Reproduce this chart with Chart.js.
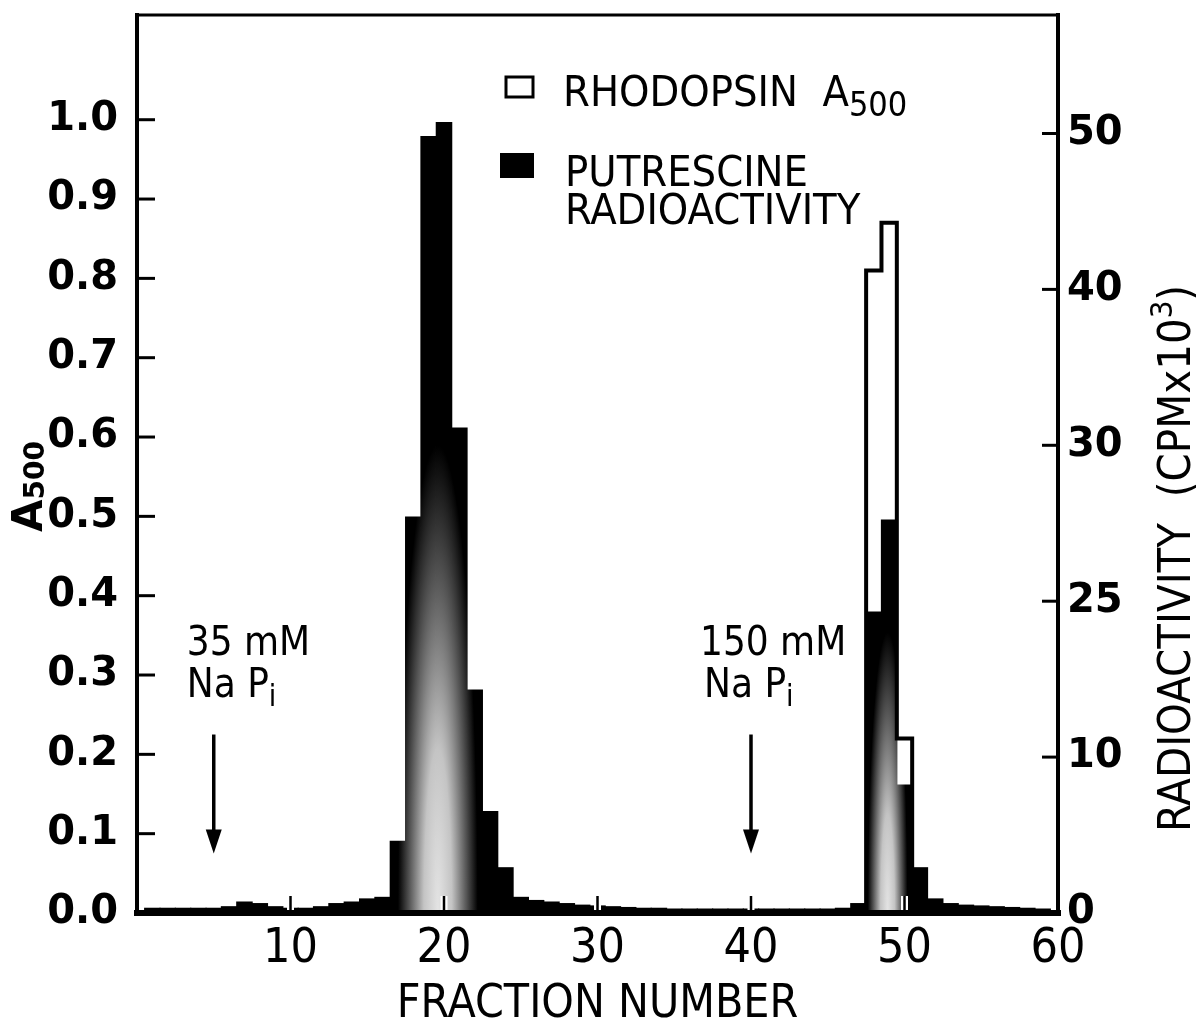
<!DOCTYPE html>
<html>
<head>
<meta charset="utf-8">
<script src="https://cdn.jsdelivr.net/npm/chart.js@4.4.1/dist/chart.umd.min.js"></script>
<style>
  html, body { margin: 0; padding: 0; background: #fff; }
</style>
</head>
<body>
<canvas id="myChart" width="1197" height="1035"></canvas>
<script>
// putrescine radioactivity (CPM x 10^3), one value per fraction
const fractions = [1, 2, 3, 4, 5, 6, 7, 8, 9, 10, 11, 12, 13, 14, 15, 16, 17, 18, 19, 20,
  21, 22, 23, 24, 25, 26, 27, 28, 29, 30, 31, 32, 33, 34, 35, 36, 37, 38, 39, 40,
  41, 42, 43, 44, 45, 46, 47, 48, 49, 50, 51, 52, 53, 54, 55, 56, 57, 58, 59];
const radioactivity = [0.3, 0.3, 0.3, 0.3, 0.3, 0.4, 0.7, 0.6, 0.4, 0.3, 0.3, 0.4, 0.6, 0.7, 0.9, 1.0, 4.6, 25.4, 49.8, 50.7,
  31.1, 14.3, 6.5, 2.9, 1.0, 0.8, 0.7, 0.6, 0.5, 0.45, 0.4, 0.35, 0.3, 0.3, 0.25, 0.25, 0.25, 0.25, 0.25, 0.25,
  0.25, 0.25, 0.25, 0.25, 0.25, 0.3, 0.6, 19.3, 25.2, 8.2, 2.9, 0.9, 0.6, 0.5, 0.45, 0.4, 0.35, 0.3, 0.25];

// rhodopsin A500 (open bars)
const rhodFractions = [48, 49, 50];
const rhodA500 = [0.81, 0.87, 0.22];

const leftTicks = [0, 0.1, 0.2, 0.3, 0.4, 0.5, 0.6, 0.7, 0.8, 0.9, 1.0];
const rightTicks = [0, 10, 20, 30, 40, 50];
const rightTickLabels = ['0', '10', '25', '30', '40', '50'];
const xTicks = [10, 20, 30, 40, 50, 60];

// buffer arrows (fraction where the buffer was changed)
const bufferAt = [5, 40];
const bufferText = ['35 mM', '150 mM'];

const NARROW = '"Liberation Sans Narrow", "DejaVu Sans Condensed", sans-serif';
const WIDE = '"DejaVu Sans", sans-serif';

// light centre of the printed black bars
const glows = [
  { at: 19.6, reach: 30, spread: 2.6 },
  { at: 48.9, reach: 18, spread: 1.3 }
];

// open bars outline as a histogram step line
let rhodOutline = [{ x: rhodFractions[0] - 0.5, y: 0 }];
rhodFractions.forEach((f, i) => rhodOutline.push({ x: f - 0.5, y: rhodA500[i] }));
rhodOutline.push({ x: rhodFractions[rhodFractions.length - 1] + 0.5, y: 0 });

var halftone = {
  id: 'halftone',
  afterLayout(chart) {
    const { width, height, scales } = chart;
    const c = document.createElement('canvas');
    c.width = width; c.height = height;
    const g = c.getContext('2d');
    g.fillStyle = '#000';
    g.fillRect(0, 0, width, height);
    const base = scales.y2.getPixelForValue(0);
    const unit = scales.x.getPixelForValue(1) - scales.x.getPixelForValue(0);
    glows.forEach(p => {
      const cx = scales.x.getPixelForValue(p.at);
      const ry = base - scales.y2.getPixelForValue(p.reach);
      const rx = p.spread * unit;
      g.save();
      g.translate(cx, base);
      g.scale(rx / ry, 1);
      const grad = g.createRadialGradient(0, 0, 0, 0, 0, ry);
      grad.addColorStop(0, '#e4e4e4');
      grad.addColorStop(0.35, '#c4c4c4');
      grad.addColorStop(0.7, '#5a5a5a');
      grad.addColorStop(1, '#000');
      g.fillStyle = grad;
      g.fillRect(-ry, -ry, 2 * ry, 2 * ry);
      g.restore();
    });
    chart.$halftone = chart.ctx.createPattern(c, 'no-repeat');
  }
};

function line(ctx, x1, y1, x2, y2) {
  ctx.beginPath(); ctx.moveTo(x1, y1); ctx.lineTo(x2, y2); ctx.stroke();
}

var frame = {
  id: 'frame',
  afterDatasetsDraw(chart) {
    const { ctx, chartArea: a, scales: { x, y, y2 } } = chart;
    ctx.save();
    ctx.strokeStyle = '#000';
    ctx.lineWidth = 3;
    leftTicks.forEach(v => { if (v > 0) { const p = y.getPixelForValue(v); line(ctx, a.left, p, a.left + 18, p); } });
    rightTicks.forEach(v => { if (v > 0) { const p = y2.getPixelForValue(v); line(ctx, a.right - 16, p, a.right, p); } });
    xTicks.forEach(v => {
      if (v >= 60) return;
      const p = x.getPixelForValue(v);
      ctx.strokeStyle = '#fff'; ctx.lineWidth = 7;
      line(ctx, p, a.bottom - 2, p, a.bottom - 17);
      ctx.strokeStyle = '#000'; ctx.lineWidth = 2.5;
      line(ctx, p, a.bottom, p, a.bottom - 17);
    });
    ctx.strokeStyle = '#000';
    ctx.lineCap = 'square';
    ctx.lineWidth = 4;
    line(ctx, a.left, a.top, a.left, a.bottom);
    line(ctx, a.right, a.top, a.right, a.bottom);
    ctx.lineWidth = 3;
    line(ctx, a.left, a.top, a.right, a.top);
    ctx.lineWidth = 6;
    line(ctx, a.left, a.bottom, a.right, a.bottom);
    ctx.restore();
  }
};

// text runs: [text, fontSize, baselineShift]
function runs(ctx, x, yb, parts, family, weight) {
  parts.forEach(([t, size, dy]) => {
    ctx.font = (weight || '') + ' ' + size + 'px ' + family;
    ctx.fillText(t, x, yb + dy);
    x += ctx.measureText(t).width;
  });
  return x;
}

var labels = {
  id: 'labels',
  afterDraw(chart) {
    const { ctx, scales: { x, y } } = chart;
    ctx.save();
    ctx.fillStyle = '#000';
    ctx.strokeStyle = '#000';
    ctx.textBaseline = 'alphabetic';
    ctx.textAlign = 'left';

    // legend
    ctx.lineWidth = 3;
    ctx.strokeRect(506, 77, 27, 20);
    ctx.fillRect(500, 153, 34, 25);
    runs(ctx, 563, 106, [['RHODOPSIN  A', 43, 0], ['500', 34, 10]], NARROW);
    runs(ctx, 565, 186, [['PUTRESCINE', 43, 0]], NARROW);
    runs(ctx, 565, 224, [['RADIOACTIVITY', 43, 0]], NARROW);

    // buffer arrows
    bufferAt.forEach((f, i) => {
      const px = x.getPixelForValue(f);
      const top = y.getPixelForValue(0.225), tip = y.getPixelForValue(0.075);
      ctx.lineWidth = 3.5;
      line(ctx, px, top, px, tip - 20);
      ctx.beginPath();
      ctx.moveTo(px - 8, tip - 24); ctx.lineTo(px + 8, tip - 24); ctx.lineTo(px, tip);
      ctx.closePath(); ctx.fill();
      const shift = i === 0 ? 27 : 51;
      runs(ctx, px - shift, 655, [[bufferText[i], 40, 0]], NARROW);
      runs(ctx, px - shift + (i === 0 ? 0 : 4), 697, [['Na P', 40, 0], ['i', 30, 9]], NARROW);
    });

    // left axis title A500
    ctx.save();
    ctx.translate(42, 532);
    ctx.rotate(-Math.PI / 2);
    runs(ctx, 0, 0, [['A', 42, 0], ['500', 28, 2]], WIDE, 'bold');
    ctx.restore();

    // right axis title
    ctx.save();
    ctx.translate(1190, 832);
    ctx.rotate(-Math.PI / 2);
    runs(ctx, 0, 0, [['RADIOACTIVITY  (CPMx10', 45, 0], ['3', 31, -18], [')', 45, 0]], NARROW);
    ctx.restore();

    ctx.restore();
  }
};

function noPad(s) {
  s.paddingTop = 0; s.paddingBottom = 0; s.paddingLeft = 0; s.paddingRight = 0;
}

Chart.defaults.color = '#000';

var ctx = document.getElementById('myChart');
var myChart = new Chart(ctx, {
  type: 'bar',
  data: {
    datasets: [
      {
        type: 'line',
        label: 'RHODOPSIN A500',
        data: rhodOutline,
        yAxisID: 'y',
        stepped: 'before',
        borderColor: '#000',
        borderWidth: 4,
        pointRadius: 0,
        fill: false,
        order: 0
      },
      {
        type: 'bar',
        label: 'PUTRESCINE RADIOACTIVITY',
        data: fractions.map((f, i) => ({ x: f, y: radioactivity[i] })),
        yAxisID: 'y2',
        backgroundColor: (c) => c.chart.$halftone || '#000',
        borderWidth: 0,
        barPercentage: 1,
        categoryPercentage: 1,
        inflateAmount: 0.6,
        order: 1
      }
    ]
  },
  options: {
    responsive: false,
    animation: false,
    layout: { padding: { top: 15, left: 0, right: 0, bottom: 0 } },
    plugins: { legend: { display: false }, tooltip: { enabled: false } },
    scales: {
      x: {
        type: 'linear',
        position: 'bottom',
        min: 0, max: 60,
        offset: false,
        grid: { display: false, drawTicks: false },
        border: { display: false },
        afterBuildTicks: (s) => { s.ticks = xTicks.map(v => ({ value: v })); },
        ticks: { padding: 8, font: { family: NARROW, size: 48 }, maxRotation: 0, autoSkip: false },
        title: { display: true, text: 'FRACTION NUMBER', font: { family: NARROW, size: 46 }, padding: { top: 0, bottom: 2 } },
        afterFit: (s) => { s.height = 122; noPad(s); }
      },
      y: {
        type: 'linear',
        position: 'left',
        min: 0, max: 1.132,
        grid: { display: false, drawTicks: false },
        border: { display: false },
        afterBuildTicks: (s) => { s.ticks = leftTicks.map(v => ({ value: v })); },
        ticks: { padding: 19, callback: (v) => v.toFixed(1), font: { family: WIDE, size: 40, weight: 'bold' } },
        afterFit: (s) => { s.width = 137; noPad(s); }
      },
      y2: {
        type: 'linear',
        position: 'right',
        min: 0, max: 57.6,
        grid: { display: false, drawTicks: false },
        border: { display: false },
        afterBuildTicks: (s) => { s.ticks = rightTicks.map(v => ({ value: v })); },
        ticks: { padding: 9, callback: (v) => rightTickLabels[rightTicks.indexOf(v)], font: { family: WIDE, size: 40, weight: 'bold' } },
        afterFit: (s) => { s.width = 139; noPad(s); }
      }
    }
  },
  plugins: [halftone, frame, labels]
});
</script>
</body>
</html>
